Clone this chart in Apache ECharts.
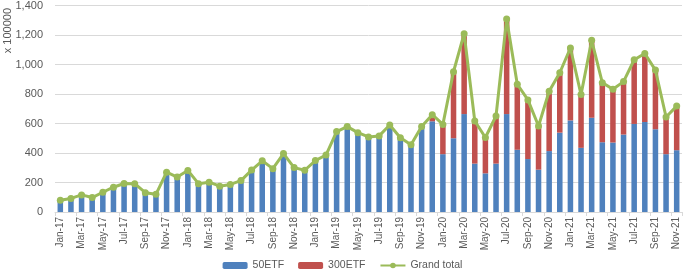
<!DOCTYPE html>
<html>
<head>
<meta charset="utf-8">
<script src="https://cdn.jsdelivr.net/npm/echarts@6/dist/echarts.min.js"></script>
<style>
  html, body { margin: 0; padding: 0; background: #fff; }
  #chart { width: 685px; height: 276px; }
</style>
</head>
<body>
<div id="chart"></div>
<script>
const months = [
  'Jan-17','Feb-17','Mar-17','Apr-17','May-17','Jun-17','Jul-17','Aug-17','Sep-17','Oct-17','Nov-17','Dec-17',
  'Jan-18','Feb-18','Mar-18','Apr-18','May-18','Jun-18','Jul-18','Aug-18','Sep-18','Oct-18','Nov-18','Dec-18',
  'Jan-19','Feb-19','Mar-19','Apr-19','May-19','Jun-19','Jul-19','Aug-19','Sep-19','Oct-19','Nov-19','Dec-19',
  'Jan-20','Feb-20','Mar-20','Apr-20','May-20','Jun-20','Jul-20','Aug-20','Sep-20','Oct-20','Nov-20','Dec-20',
  'Jan-21','Feb-21','Mar-21','Apr-21','May-21','Jun-21','Jul-21','Aug-21','Sep-21','Oct-21','Nov-21'
]

// x 100000
const etf50 = [
  80, 92, 116, 98, 134, 168, 193, 192, 131, 120, 270, 237,
  282, 192, 202, 175, 187, 213, 284, 347, 294, 396, 301, 283,
  349, 386, 545, 579, 538, 509, 516, 590, 503, 456, 579, 615,
  392, 500, 664, 328, 262, 328, 664, 422, 359, 287, 413, 538,
  621, 435, 639, 473, 471, 525, 597, 610, 561, 392, 419
]

const etf300 = [
  0, 0, 0, 0, 0, 0, 0, 0, 0, 0, 0, 0,
  0, 0, 0, 0, 0, 0, 0, 0, 0, 0, 0, 0,
  0, 0, 0, 0, 0, 0, 0, 0, 0, 0, 0, 45,
  202, 451, 545, 289, 243, 323, 644, 444, 401, 296, 406, 406,
  491, 361, 525, 404, 361, 359, 435, 465, 401, 252, 299
]

const grandTotal = etf50.map((v, i) => v + etf300[i])

const font = 'Liberation Sans'
const chart = echarts.init(document.getElementById('chart'))

chart.setOption({
  animation: false,
  textStyle: { fontFamily: font },
  grid: { left: 55, right: 3, top: 4, bottom: 64 },
  legend: {
    bottom: 0,
    left: 'center',
    itemWidth: 25,
    itemHeight: 7,
    itemGap: 14,
    textStyle: { color: '#595959', fontSize: 10.5, fontFamily: font },
    data: ['50ETF', '300ETF', 'Grand total']
  },
  graphic: [{
    type: 'text',
    left: 2,
    top: 8,
    rotation: Math.PI / 2,
    style: { text: 'x 100000', fill: '#595959', font: '11px ' + font }
  }],
  xAxis: {
    type: 'category',
    data: months,
    axisLine: { lineStyle: { color: '#d9d9d9' } },
    axisTick: { show: true, interval: 1, length: 4, lineStyle: { color: '#d9d9d9' } },
    axisLabel: { interval: 1, rotate: 90, color: '#595959', fontSize: 10, margin: 5 }
  },
  yAxis: {
    type: 'value',
    min: 0,
    max: 1400,
    interval: 200,
    axisLine: { show: false },
    axisTick: { show: false },
    splitLine: { lineStyle: { color: '#d9d9d9' } },
    axisLabel: {
      color: '#595959',
      fontSize: 11,
      margin: 12,
      formatter: (v) => v.toLocaleString('en-US')
    }
  },
  series: [
    {
      name: '50ETF',
      type: 'bar',
      stack: 'etf',
      data: etf50,
      barCategoryGap: '48%',
      itemStyle: { color: '#4f81bd' }
    },
    {
      name: '300ETF',
      type: 'bar',
      stack: 'etf',
      data: etf300,
      itemStyle: { color: '#c0504d' }
    },
    {
      name: 'Grand total',
      type: 'line',
      data: grandTotal,
      symbol: 'circle',
      symbolSize: 7,
      z: 5,
      lineStyle: { color: '#9bbb59', width: 3 },
      itemStyle: { color: '#9bbb59' }
    }
  ]
})
</script>
</body>
</html>
